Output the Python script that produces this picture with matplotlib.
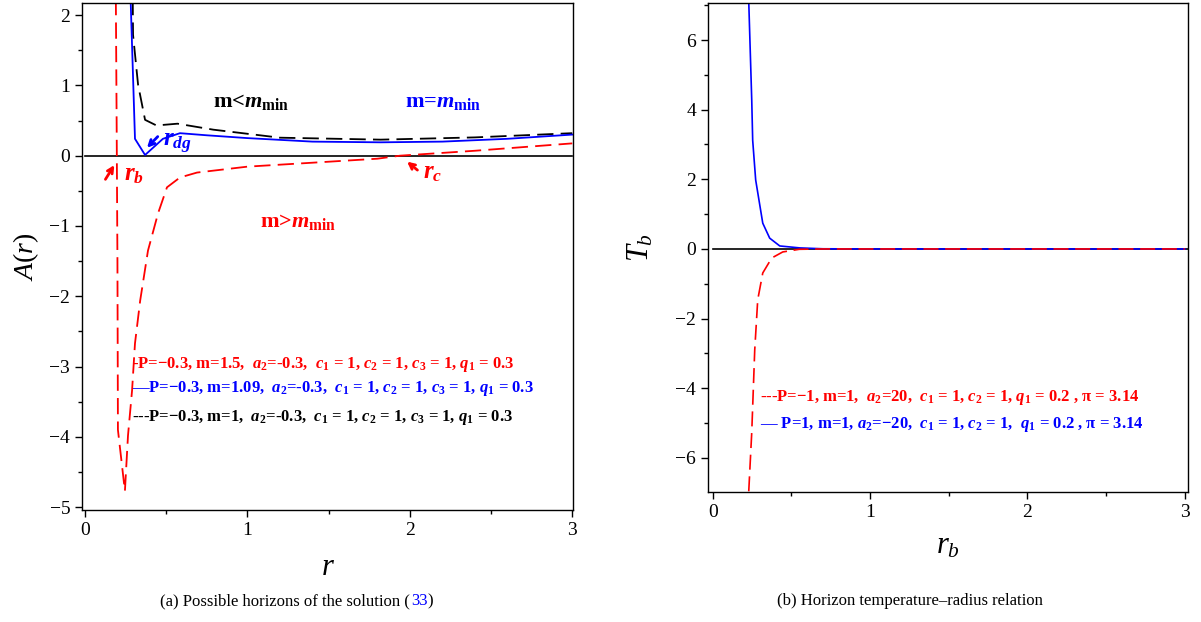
import matplotlib
matplotlib.use("Agg")
import matplotlib.pyplot as plt
from matplotlib.ticker import MultipleLocator

plt.rcParams["font.family"] = "Liberation Serif"
plt.rcParams["mathtext.fontset"] = "custom"
plt.rcParams["mathtext.rm"] = "Liberation Serif"
plt.rcParams["mathtext.it"] = "Liberation Serif:italic"
plt.rcParams["mathtext.bf"] = "Liberation Serif:bold"
plt.rcParams["mathtext.bfit"] = "Liberation Serif:italic:bold"

# (a) A(r) for three masses
r_red = [0.19, 0.195, 0.2, 0.203, 0.246, 0.265, 0.29, 0.308, 0.34, 0.388, 0.45,
         0.505, 0.585, 0.69, 1.0, 1.4, 1.8, 1.94, 2.4, 3.0]
A_red = [2.3, 0.5, -1.5, -3.9, -4.77, -3.98, -3.34, -2.67, -2.06, -1.35, -0.82,
         -0.45, -0.31, -0.24, -0.156, -0.10, -0.043, 0.0, 0.07, 0.175]
r_blue = [0.28, 0.308, 0.37, 0.48, 0.585, 0.75, 1.0, 1.4, 1.82, 2.2, 2.6, 3.0]
A_blue = [2.3, 0.24, 0.01, 0.24, 0.32, 0.29, 0.25, 0.2, 0.19, 0.2, 0.24, 0.30]
r_black = [0.294, 0.296, 0.327, 0.37, 0.44, 0.57, 0.79, 1.2, 1.82, 2.4, 3.0]
A_black = [2.3, 1.72, 1.01, 0.51, 0.43, 0.455, 0.37, 0.256, 0.228, 0.26, 0.32]

# (b) T_b against r_b
rb_blue = [0.227, 0.229, 0.248, 0.254, 0.273, 0.318, 0.362, 0.426, 0.553, 0.7, 1.0, 2.0, 3.0]
T_blue = [7.3, 7.1, 4.27, 3.12, 1.98, 0.74, 0.31, 0.086, 0.03, 0.005, 0.0, 0.0, 0.0]
rb_red = [0.229, 0.248, 0.267, 0.286, 0.318, 0.375, 0.445, 0.55, 0.7, 1.0, 2.0, 3.0]
T_red = [-6.96, -5.27, -2.9, -1.46, -0.69, -0.26, -0.086, -0.01, 0.0, 0.0, 0.0, 0.0]

legend_a = [
    ("-P=\u22120.3, m=1.5,  $\\mathbfit{a}_{\\mathbf{2}}$=-0.3,  $\\mathbfit{c}_{\\mathbf{1}}$ = 1, "
     "$\\mathbfit{c}_{\\mathbf{2}}$ = 1, $\\mathbfit{c}_{\\mathbf{3}}$ = 1, $\\mathbfit{q}_{\\mathbf{1}}$ = 0.3", "red"),
    ("\u2014P=\u22120.3, m=1.09,  $\\mathbfit{a}_{\\mathbf{2}}$=-0.3,  $\\mathbfit{c}_{\\mathbf{1}}$ = 1, "
     "$\\mathbfit{c}_{\\mathbf{2}}$ = 1, $\\mathbfit{c}_{\\mathbf{3}}$ = 1, $\\mathbfit{q}_{\\mathbf{1}}$ = 0.3", "blue"),
    ("---P=\u22120.3, m=1,  $\\mathbfit{a}_{\\mathbf{2}}$=-0.3,  $\\mathbfit{c}_{\\mathbf{1}}$ = 1, "
     "$\\mathbfit{c}_{\\mathbf{2}}$ = 1, $\\mathbfit{c}_{\\mathbf{3}}$ = 1, $\\mathbfit{q}_{\\mathbf{1}}$ = 0.3", "black"),
]
legend_b = [
    ("---P=\u22121, m=1,  $\\mathbfit{a}_{\\mathbf{2}}$=20,  $\\mathbfit{c}_{\\mathbf{1}}$ = 1, "
     "$\\mathbfit{c}_{\\mathbf{2}}$ = 1, $\\mathbfit{q}_{\\mathbf{1}}$ = 0.2 , \u03c0 = 3.14", "red"),
    ("\u2014 P=1, m=1, $\\mathbfit{a}_{\\mathbf{2}}$=\u221220,  $\\mathbfit{c}_{\\mathbf{1}}$ = 1, "
     "$\\mathbfit{c}_{\\mathbf{2}}$ = 1,  $\\mathbfit{q}_{\\mathbf{1}}$ = 0.2 , \u03c0 = 3.14", "blue"),
]


def style_axes(ax):
    for s in ax.spines.values():
        s.set_linewidth(1.0)
        s.set_color("black")
    ax.tick_params(direction="out", length=5, width=1, labelsize=14)
    ax.tick_params(which="minor", direction="out", length=3, width=1)


fig = plt.figure(figsize=(12.01, 6.22), dpi=100)
ax1 = fig.add_axes([0.0683, 0.18, 0.409, 0.815])
ax2 = fig.add_axes([0.5895, 0.209, 0.3997, 0.786])

# left panel
ax1.plot([0, 3], [0, 0], color="black", lw=1.2)
ax1.plot(r_black, A_black, color="black", lw=1.3, dashes=(9, 4))
ax1.plot(r_blue, A_blue, color="blue", lw=1.3)
ax1.plot(r_red, A_red, color="red", lw=1.3, dashes=(9, 4))
ax1.set_xlim(-0.018, 3.006)
ax1.set_ylim(-5.04, 2.17)
ax1.xaxis.set_major_locator(MultipleLocator(1))
ax1.xaxis.set_minor_locator(MultipleLocator(0.5))
ax1.yaxis.set_major_locator(MultipleLocator(1))
ax1.yaxis.set_minor_locator(MultipleLocator(0.5))
style_axes(ax1)
ax1.set_xlabel("$r$", fontsize=22, labelpad=10)
ax1.set_ylabel("$A(r)$", fontsize=20, labelpad=6)

ax1.text(0.79, 0.77, "m<$\\mathbfit{m}_{\\mathbf{min}}$", color="black", fontsize=16,
         fontweight="bold", va="center")
ax1.text(1.97, 0.77, "m=$\\mathbfit{m}_{\\mathbf{min}}$", color="blue", fontsize=16,
         fontweight="bold", va="center")
ax1.text(1.08, -0.94, "m>$\\mathbfit{m}_{\\mathbf{min}}$", color="red", fontsize=16,
         fontweight="bold", va="center")

ax1.annotate("", xy=(0.19, -0.1), xytext=(0.117, -0.37),
             arrowprops=dict(arrowstyle="->", color="red", lw=2))
ax1.text(0.24, -0.27, "$\\mathbfit{r}_{\\mathbfit{b}}$", color="red", fontsize=18, va="center")
ax1.annotate("", xy=(1.97, -0.06), xytext=(2.06, -0.23),
             arrowprops=dict(arrowstyle="->", color="red", lw=2))
ax1.text(2.08, -0.24, "$\\mathbfit{r}_{\\mathbfit{c}}$", color="red", fontsize=18, va="center")
ax1.annotate("", xy=(0.37, 0.085), xytext=(0.46, 0.30),
             arrowprops=dict(arrowstyle="->", color="blue", lw=2))
ax1.text(0.48, 0.16, "$\\mathbfit{r}_{\\mathbfit{dg}}$", color="blue", fontsize=18, va="center")

for (txt, col), y in zip(legend_a, [-2.97, -3.31, -3.73]):
    ax1.text(0.29, y, txt, color=col, fontsize=12, fontweight="bold", va="center")

# right panel
ax2.plot([0, 3.02], [0, 0], color="black", lw=1.2)
ax2.plot(rb_blue, T_blue, color="blue", lw=1.2)
ax2.plot(rb_red, T_red, color="red", lw=1.2, dashes=(9, 4))
ax2.set_xlim(-0.03, 3.02)
ax2.set_ylim(-6.98, 7.06)
ax2.xaxis.set_major_locator(MultipleLocator(1))
ax2.xaxis.set_minor_locator(MultipleLocator(0.5))
ax2.yaxis.set_major_locator(MultipleLocator(2))
ax2.yaxis.set_minor_locator(MultipleLocator(1))
style_axes(ax2)
ax2.set_xlabel("$r_b$", fontsize=22, labelpad=8)
ax2.set_ylabel("$T_b$", fontsize=22, labelpad=14)

for (txt, col), y in zip(legend_b, [-4.28, -5.05]):
    ax2.text(0.3, y, txt, color=col, fontsize=12, fontweight="bold", va="center")

# captions
cap = fig.text(0.1335, 0.027, "(a) Possible horizons of the solution (", fontsize=12)
num = fig.text(0, 0, "33", fontsize=12, color="blue")
fig.canvas.draw()
bb = cap.get_window_extent()
num.set_position(((bb.x1 + 0.5) / fig.bbox.width, 0.027))
fig.canvas.draw()
bb2 = num.get_window_extent()
fig.text((bb2.x1 + 0.5) / fig.bbox.width, 0.027, ")", fontsize=12)
fig.text(0.7575, 0.027, "(b) Horizon temperature\u2013radius relation", fontsize=12, ha="center")

fig.savefig("out.png", dpi=100)
